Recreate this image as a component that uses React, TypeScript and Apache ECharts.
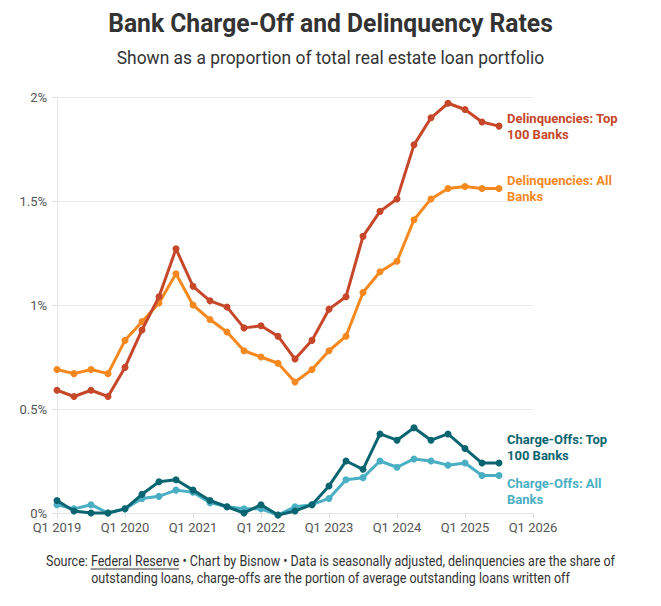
import React, { useEffect, useRef } from "react";
import * as echarts from "echarts";

const quarters = [
  "Q1 2019", "Q2 2019", "Q3 2019", "Q4 2019",
  "Q1 2020", "Q2 2020", "Q3 2020", "Q4 2020",
  "Q1 2021", "Q2 2021", "Q3 2021", "Q4 2021",
  "Q1 2022", "Q2 2022", "Q3 2022", "Q4 2022",
  "Q1 2023", "Q2 2023", "Q3 2023", "Q4 2023",
  "Q1 2024", "Q2 2024", "Q3 2024", "Q4 2024",
  "Q1 2025", "Q2 2025", "Q3 2025", "Q4 2025",
  "Q1 2026",
];

const delinqTop100 = [
  0.59, 0.56, 0.59, 0.56, 0.70, 0.88, 1.04, 1.27, 1.09, 1.02, 0.99, 0.89, 0.90, 0.85,
  0.74, 0.83, 0.98, 1.04, 1.33, 1.45, 1.51, 1.77, 1.90, 1.97, 1.94, 1.88, 1.86,
];
const delinqAll = [
  0.69, 0.67, 0.69, 0.67, 0.83, 0.92, 1.01, 1.15, 1.00, 0.93, 0.87, 0.78, 0.75, 0.72,
  0.63, 0.69, 0.78, 0.85, 1.06, 1.16, 1.21, 1.41, 1.51, 1.56, 1.57, 1.56, 1.56,
];
const chargeTop100 = [
  0.06, 0.01, 0.0, 0.0, 0.02, 0.09, 0.15, 0.16, 0.11, 0.06, 0.03, 0.0, 0.04, -0.01,
  0.01, 0.04, 0.13, 0.25, 0.21, 0.38, 0.35, 0.41, 0.35, 0.38, 0.31, 0.24, 0.24,
];
const chargeAll = [
  0.04, 0.02, 0.04, 0.0, 0.02, 0.07, 0.08, 0.11, 0.10, 0.05, 0.03, 0.02, 0.02, -0.01,
  0.03, 0.04, 0.07, 0.16, 0.17, 0.25, 0.22, 0.26, 0.25, 0.23, 0.24, 0.18, 0.18,
];

const seriesNames = [
  "Charge-Offs: All Banks",
  "Charge-Offs: Top 100 Banks",
  "Delinquencies: All Banks",
  "Delinquencies: Top 100 Banks",
];
const endLabelTexts = [
  "Charge-Offs: All\nBanks",
  "Charge-Offs: Top\n100 Banks",
  "Delinquencies: All\nBanks",
  "Delinquencies: Top\n100 Banks",
];

const titleText = "Bank Charge-Off and Delinquency Rates";
const subtitleText = "Shown as a proportion of total real estate loan portfolio";
const sourcePrefix = "Source: ";
const sourceLink = "Federal Reserve";
const noteLine1Rest =
  " \u2022 Chart by Bisnow \u2022 Data is seasonally adjusted, delinquencies are the share of";
const noteLine2 =
  "outstanding loans, charge-offs are the portion of average outstanding loans written off";

const FONT = "Roboto, 'Noto Sans', sans-serif";

export default function App() {
  const ref = useRef<HTMLDivElement>(null);

  useEffect(() => {
    document.body.style.margin = "0";
    document.body.style.overflow = "hidden";
    const el = ref.current;
    if (!el) return;
    const chart = echarts.init(el, undefined, { renderer: "svg" });

    const ctx = document.createElement("canvas").getContext("2d")!;
    const measure = (t: string, font: string) => {
      ctx.font = font;
      return ctx.measureText(t).width;
    };

    const titleFont = `bold 26px ${FONT}`;
    const subFont = `18px ${FONT}`;
    const noteFont = `14px ${FONT}`;
    const titleScale = 445 / measure(titleText, titleFont);
    const subScale = 428 / measure(subtitleText, subFont);
    const line1 = sourcePrefix + sourceLink + noteLine1Rest;
    const noteScale = 570 / measure(line1, noteFont);
    const cx = 330.5;
    const line1W = measure(line1, noteFont) * noteScale;
    const ulStart = cx - line1W / 2 + measure(sourcePrefix, noteFont) * noteScale;
    const ulEnd = ulStart + measure(sourceLink, noteFont) * noteScale;

    const colors = ["#4aafc3", "#0b6570", "#f5891f", "#c6472a"];
    const datasets = [chargeAll, chargeTop100, delinqAll, delinqTop100];
    const offsets = [[0, 16], [0, -16], [0, 0], [0, 0]];

    const option: any = {
      animation: false,
      grid: { left: 57, right: 128, top: 97, bottom: 93, containLabel: false },
      xAxis: {
        type: "category",
        data: quarters,
        boundaryGap: false,
        axisLine: { show: true, lineStyle: { color: "#e6e6e6", width: 1 } },
        axisTick: { show: true, interval: 3, length: 5, lineStyle: { color: "#e0e0e0" } },
        axisLabel: {
          interval: 3,
          color: "#555555",
          fontSize: 13,
          fontFamily: FONT,
          margin: 8,
        },
        splitLine: { show: false },
      },
      yAxis: {
        type: "value",
        min: 0,
        max: 2,
        interval: 0.5,
        axisLine: { show: true, lineStyle: { color: "#e6e6e6", width: 1 } },
        axisTick: { show: true, length: 5, lineStyle: { color: "#e0e0e0" } },
        axisLabel: {
          formatter: (v: number) => `${v}%`,
          color: "#555555",
          fontSize: 13,
          fontFamily: FONT,
          margin: 10,
        },
        splitLine: { show: true, lineStyle: { color: "#ebebeb", width: 1 } },
      },
      series: datasets.map((d, i) => ({
        name: seriesNames[i],
        type: "line",
        data: d,
        clip: false,
        symbol: "circle",
        symbolSize: 7,
        showSymbol: true,
        color: colors[i],
        lineStyle: { width: 3, color: colors[i] },
        itemStyle: { color: colors[i] },
        z: 2 + i,
        endLabel: {
          show: true,
          formatter: endLabelTexts[i],
          color: colors[i],
          fontWeight: "bold",
          fontSize: 13,
          lineHeight: 16,
          fontFamily: FONT,
          distance: 8,
          offset: offsets[i],
        },
      })),
      graphic: [
        {
          type: "text",
          x: cx,
          y: 23,
          scaleX: titleScale,
          style: {
            text: titleText,
            font: titleFont,
            fill: "#333333",
            align: "center",
            verticalAlign: "middle",
            textAlign: "center",
            textVerticalAlign: "middle",
          },
        },
        {
          type: "text",
          x: cx,
          y: 58,
          scaleX: subScale,
          style: {
            text: subtitleText,
            font: subFont,
            fill: "#333333",
            align: "center",
            verticalAlign: "middle",
            textAlign: "center",
            textVerticalAlign: "middle",
          },
        },
        {
          type: "text",
          x: cx,
          y: 561,
          scaleX: noteScale,
          style: {
            text: line1,
            font: noteFont,
            fill: "#333333",
            align: "center",
            verticalAlign: "middle",
            textAlign: "center",
            textVerticalAlign: "middle",
          },
        },
        {
          type: "text",
          x: cx,
          y: 578,
          scaleX: noteScale,
          style: {
            text: noteLine2,
            font: noteFont,
            fill: "#333333",
            align: "center",
            verticalAlign: "middle",
            textAlign: "center",
            textVerticalAlign: "middle",
          },
        },
        {
          type: "line",
          shape: { x1: ulStart, y1: 569, x2: ulEnd, y2: 569 },
          style: { stroke: "#333333", lineWidth: 1 },
        },
      ],
    };

    chart.setOption(option);
    return () => chart.dispose();
  }, []);

  return <div ref={ref} style={{ width: 661, height: 606 }} />;
}
